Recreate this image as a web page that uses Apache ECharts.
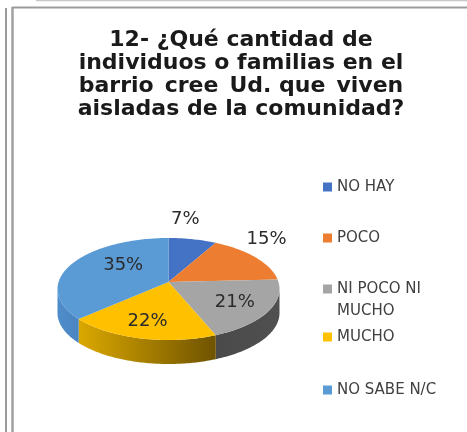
<!DOCTYPE html>
<html><head><meta charset="utf-8">
<script src="https://cdn.jsdelivr.net/npm/echarts@6/dist/echarts.min.js"></script>
<style>html,body{margin:0;padding:0;background:#fff}#c{width:467px;height:432px}</style>
</head><body><div id="c"></div>
<script>
// ---- data ----
const titleText = '12- ¿Qué cantidad de\nindividuos o familias en el\nbarrio\u2002cree\u2002Ud. que\u2002viven\naisladas de la comunidad?';
const categories = ['NO HAY', 'POCO', 'NI POCO NI MUCHO', 'MUCHO', 'NO SABE N/C'];
const values = [7, 15, 21, 22, 35];
const legendLabels = ['NO HAY', 'POCO', 'NI POCO NI\nMUCHO', 'MUCHO', 'NO SABE N/C'];

// ---- styles ----
const topColors = ['#4472C4', '#ED7D31', '#A5A5A5', '#FFC000', '#5B9BD5'];
const sideColors = [['#375c9e', '#2f4f88'], ['#b85f22', '#9c4f1c'], ['#4a4a4a', '#505050'], ['#dba800', '#6f5300'], ['#4f8ccb', '#4a85c0']];
const labelOffsets = [[1, -35], [41, -27], [2, 1], [-3, 3], [19, -6]];
const legendCenters = [187, 238, 289, 337, 390];
const geo = { cx: 168.5, cy: 289, rx: 111, ry: 51, apexDy: -7, depth: 24, labelK: 0.65 };

const total = values.reduce((a, b) => a + b, 0);
const starts = [];
(function () { let acc = 0; values.forEach(v => { starts.push(acc / total * 360); acc += v; }); })();

function pt(theta, k, dy) {
  const r = theta * Math.PI / 180;
  return [geo.cx + geo.rx * k * Math.sin(r), geo.cy - geo.ry * k * Math.cos(r) + (dy || 0)];
}
function arc(a0, a1, dy) {
  const pts = [];
  const n = Math.max(2, Math.ceil((a1 - a0) / 1));
  for (let j = 0; j <= n; j++) pts.push(pt(a0 + (a1 - a0) * j / n, 1, dy));
  return pts;
}

const series = categories.map((name, i) => ({
  type: 'custom',
  name: name,
  coordinateSystem: 'none',
  color: topColors[i],
  data: [values[i]],
  renderItem: function (params, api) {
    const v = api.value(0);
    const s = starts[i], e = s + v / total * 360;
    const children = [];
    const a0 = Math.max(s, 90), a1 = Math.min(e, 270);
    if (a1 > a0) {
      const topArc = arc(a0, a1, 0);
      const botArc = arc(a0, a1, geo.depth).reverse();
      children.push({
        type: 'polygon', shape: { points: topArc.concat(botArc) },
        style: { fill: new echarts.graphic.LinearGradient(0, 0, 1, 0, [
          { offset: 0, color: sideColors[i][0] }, { offset: 1, color: sideColors[i][1] }]) }
      });
    }
    const apex = [geo.cx, geo.cy + geo.apexDy];
    children.push({
      type: 'polygon', shape: { points: [apex].concat(arc(s, e, 0)) },
      style: { fill: topColors[i] }
    });
    const m = pt((s + e) / 2, 1, 0);
    const lx = apex[0] + geo.labelK * (m[0] - apex[0]) + labelOffsets[i][0];
    const ly = apex[1] + geo.labelK * (m[1] - apex[1]) + labelOffsets[i][1];
    children.push({
      type: 'text', z2: 20,
      style: {
        text: Math.round(v / total * 100) + '%', x: lx, y: ly,
        align: 'center', verticalAlign: 'middle',
        fontFamily: 'DejaVu Sans', fontSize: 18, fill: '#2b2b2b'
      }
    });
    return { type: 'group', children: children };
  }
}));

const legends = categories.map((name, i) => {
  const two = legendLabels[i].indexOf('\n') >= 0;
  const lh = two ? 22 : 18;
  return {
    data: [name], orient: 'vertical', left: 323,
    top: two ? legendCenters[i] - (lh * 3) / 2 : legendCenters[i] - lh / 2,
    padding: 0, itemWidth: 9, itemHeight: 9, itemGap: 0, icon: 'rect',
    formatter: () => (two ? '\n' : '') + legendLabels[i],
    textStyle: { fontFamily: 'DejaVu Sans', fontSize: 15, color: '#404040', lineHeight: lh }
  };
});

const chart = echarts.init(document.getElementById('c'), null, { renderer: 'canvas' });
chart.setOption({
  backgroundColor: '#ffffff',
  animation: false,
  title: {
    text: titleText, left: 241, top: 29, padding: 0, textAlign: 'center',
    textStyle: { fontFamily: 'DejaVu Sans', fontWeight: 'bold', fontSize: 22, lineHeight: 23, color: '#1a1a1a' }
  },
  legend: legends,
  series: series,
  graphic: [
    { type: 'line', shape: { x1: 6, y1: 8, x2: 6, y2: 432 }, style: { stroke: '#9b9b9b', lineWidth: 2 } },
    { type: 'line', shape: { x1: 12.5, y1: 7, x2: 12.5, y2: 432 }, style: { stroke: '#a0a0a0', lineWidth: 2.5 } },
    { type: 'line', shape: { x1: 12, y1: 7.5, x2: 467, y2: 7.5 }, style: { stroke: '#9b9b9b', lineWidth: 2 } },
    { type: 'line', shape: { x1: 36, y1: 0.5, x2: 467, y2: 0.5 }, style: { stroke: '#c8c8c8', lineWidth: 1.5 } }
  ]
});
</script>
</body></html>
